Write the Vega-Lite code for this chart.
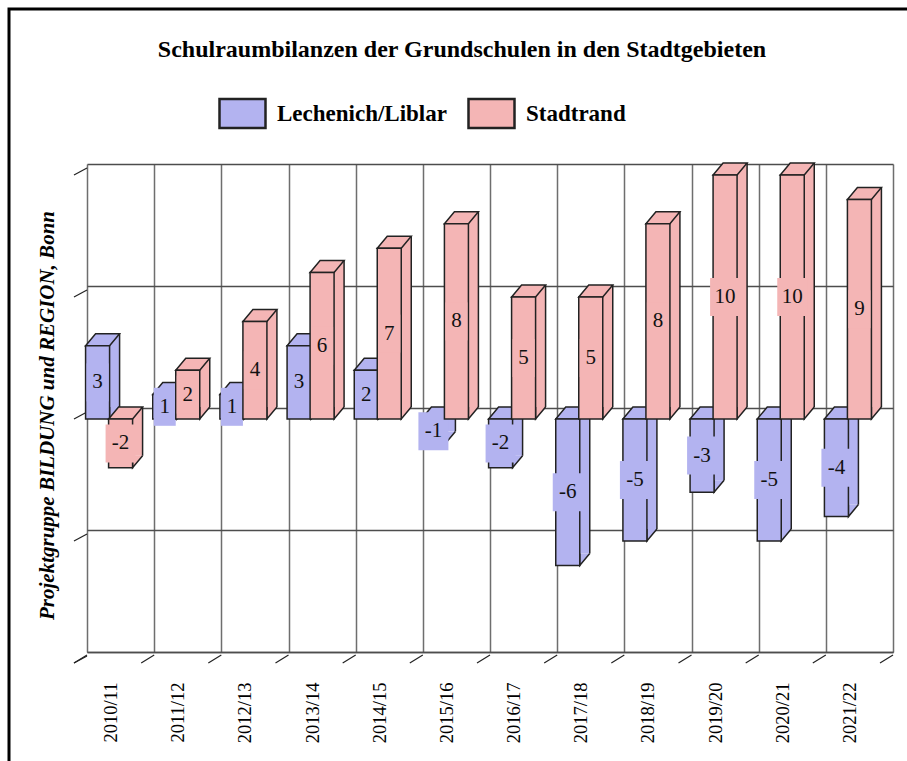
{
  "$schema": "https://vega.github.io/schema/vega-lite/v6.json",
  "width": 900,
  "height": 798,
  "autosize": {"type": "none"},
  "padding": {"left": 9, "top": 9, "right": -2, "bottom": -46},
  "background": "white",
  "config": {"view": {"stroke": "#000", "strokeWidth": 3, "fill": "white"}, "font": "Liberation Serif"},
  "title": {"text": "Schulraumbilanzen der Grundschulen in den Stadtgebieten", "font": "Liberation Serif", "fontSize": 24, "fontWeight": "bold", "color": "#000", "anchor": "middle", "frame": "group", "baseline": "alphabetic", "offset": -72, "dx": 3},
  "datasets": {
    "bars": [
      {"year": "2010/11", "s": "Lechenich/Liblar", "v": 3},
      {"year": "2011/12", "s": "Lechenich/Liblar", "v": 1},
      {"year": "2012/13", "s": "Lechenich/Liblar", "v": 1},
      {"year": "2013/14", "s": "Lechenich/Liblar", "v": 3},
      {"year": "2014/15", "s": "Lechenich/Liblar", "v": 2},
      {"year": "2015/16", "s": "Lechenich/Liblar", "v": -1},
      {"year": "2016/17", "s": "Lechenich/Liblar", "v": -2},
      {"year": "2017/18", "s": "Lechenich/Liblar", "v": -6},
      {"year": "2018/19", "s": "Lechenich/Liblar", "v": -5},
      {"year": "2019/20", "s": "Lechenich/Liblar", "v": -3},
      {"year": "2020/21", "s": "Lechenich/Liblar", "v": -5},
      {"year": "2021/22", "s": "Lechenich/Liblar", "v": -4},
      {"year": "2010/11", "s": "Stadtrand", "v": -2},
      {"year": "2011/12", "s": "Stadtrand", "v": 2},
      {"year": "2012/13", "s": "Stadtrand", "v": 4},
      {"year": "2013/14", "s": "Stadtrand", "v": 6},
      {"year": "2014/15", "s": "Stadtrand", "v": 7},
      {"year": "2015/16", "s": "Stadtrand", "v": 8},
      {"year": "2016/17", "s": "Stadtrand", "v": 5},
      {"year": "2017/18", "s": "Stadtrand", "v": 5},
      {"year": "2018/19", "s": "Stadtrand", "v": 8},
      {"year": "2019/20", "s": "Stadtrand", "v": 10},
      {"year": "2020/21", "s": "Stadtrand", "v": 10},
      {"year": "2021/22", "s": "Stadtrand", "v": 9}
    ],
    "yticks": [{"t": -10}, {"t": -5}, {"t": 0}, {"t": 5}, {"t": 10}]
  },
  "resolve": {"scale": {"y": "independent"}},
  "layer": [
    {
      "layer": [
        {
          "data": {"name": "yticks"},
          "mark": {"type": "point", "shape": "M0,4L-13,11", "size": 4, "filled": false, "stroke": "#222", "strokeWidth": 1.2, "opacity": 1},
          "encoding": {
            "x": {"datum": "2010/11", "type": "nominal", "bandPosition": 0},
            "y": {"field": "t", "type": "quantitative",
              "scale": {"domain": [-10, 10], "range": [643, 155], "nice": false, "zero": false},
              "axis": {"orient": "left", "offset": -78, "values": [-10, -5, 0, 5, 10], "labels": false, "ticks": false, "domain": false, "grid": true, "gridColor": "#4d4d4d", "gridWidth": 1.5,
                "title": "Projektgruppe BILDUNG und REGION, Bonn", "titleFont": "Liberation Serif", "titleFontSize": 21, "titleFontWeight": "bold", "titleFontStyle": "italic", "titleColor": "#000", "titleX": -40, "titleY": 406, "titleAngle": -90, "titleAlign": "center", "titleBaseline": "middle"}}
          }
        },
        {
          "data": {"name": "bars"},
          "transform": [{"filter": "datum.s == 'Stadtrand'"}],
          "mark": {"type": "point", "shape": "M0,3L-13,11", "size": 4, "filled": false, "stroke": "#222", "strokeWidth": 1.2, "opacity": 1},
          "encoding": {
            "x": {"field": "year", "type": "nominal", "bandPosition": 0,
              "scale": {"type": "band", "domain": ["2010/11","2011/12","2012/13","2013/14","2014/15","2015/16","2016/17","2017/18","2018/19","2019/20","2020/21","2021/22"], "range": [78, 884], "paddingInner": 0, "paddingOuter": 0},
              "axis": {"orient": "bottom", "offset": -155, "title": null, "ticks": false, "domain": true, "domainColor": "#4d4d4d", "domainWidth": 1.5, "grid": true, "gridColor": "#6e6e6e", "gridWidth": 1.5, "tickBand": "extent", "labelAngle": -90, "labelPadding": 30, "labelOffset": -10, "labelFont": "Liberation Serif", "labelFontSize": 18.5, "labelColor": "#000", "labelAlign": "right", "labelBaseline": "middle"}},
            "y": {"datum": -10}
          }
        },
        {
          "data": {"name": "bars"},
          "transform": [{"filter": "datum.s == 'Stadtrand' && datum.year == '2021/22'"}],
          "mark": {"type": "point", "shape": "M0,3L-13,11", "size": 4, "filled": false, "stroke": "#222", "strokeWidth": 1.2, "opacity": 1},
          "encoding": {
            "x": {"field": "year", "type": "nominal", "bandPosition": 1},
            "y": {"datum": -10}
          }
        },
        {
          "data": {"name": "bars"},
          "transform": [{"filter": "datum.s == 'Lechenich/Liblar'"}],
          "mark": {"type": "bar", "width": 10, "xOffset": -6, "yOffset": -1, "y2Offset": -1, "fill": "#b3b3f0", "strokeWidth": 0, "opacity": 1},
          "encoding": {"x": {"field": "year", "type": "nominal"}, "y": {"field": "v", "type": "quantitative"}, "y2": {"datum": 0}}
        },
        {
          "data": {"name": "bars"},
          "transform": [{"filter": "datum.s == 'Lechenich/Liblar'"}],
          "mark": {"type": "rule", "xOffset": -1, "yOffset": -1, "y2Offset": -1, "stroke": "#222", "strokeWidth": 1.5},
          "encoding": {"x": {"field": "year", "type": "nominal"}, "y": {"field": "v", "type": "quantitative"}, "y2": {"datum": 0}}
        },
        {
          "data": {"name": "bars"},
          "transform": [{"filter": "datum.s == 'Lechenich/Liblar' && datum.v >= 0"}],
          "mark": {"type": "point", "shape": "M10,-12L0,0L0,-12", "size": 4, "filled": true, "fill": "#b3b3f0", "stroke": "#222", "strokeWidth": 1.5, "opacity": 1, "xOffset": -11, "yOffset": 11},
          "encoding": {"x": {"field": "year", "type": "nominal"}, "y": {"datum": 0}}
        },
        {
          "data": {"name": "bars"},
          "transform": [{"filter": "datum.s == 'Lechenich/Liblar' && datum.v < 0"}],
          "mark": {"type": "point", "shape": "M10,-12L0,0L0,-12", "size": 4, "filled": true, "fill": "#b3b3f0", "stroke": "#222", "strokeWidth": 1.5, "opacity": 1, "xOffset": -11, "yOffset": 11},
          "encoding": {"x": {"field": "year", "type": "nominal"}, "y": {"field": "v", "type": "quantitative"}}
        },
        {
          "data": {"name": "bars"},
          "transform": [{"filter": "datum.s == 'Lechenich/Liblar' && datum.v >= 0"}],
          "mark": {"type": "point", "shape": "M-12,0L12,0L22,-12L-2,-12Z", "size": 4, "filled": true, "fill": "#b3b3f0", "stroke": "#222", "strokeWidth": 1.5, "opacity": 1, "xOffset": -23, "yOffset": 11},
          "encoding": {"x": {"field": "year", "type": "nominal"}, "y": {"field": "v", "type": "quantitative"}}
        },
        {
          "data": {"name": "bars"},
          "transform": [{"filter": "datum.s == 'Lechenich/Liblar' && datum.v < 0"}],
          "mark": {"type": "point", "shape": "M-12,0L12,0L22,-12L-2,-12Z", "size": 4, "filled": true, "fill": "#b3b3f0", "stroke": "#222", "strokeWidth": 1.5, "opacity": 1, "xOffset": -23, "yOffset": 11},
          "encoding": {"x": {"field": "year", "type": "nominal"}, "y": {"datum": 0}}
        },
        {
          "data": {"name": "bars"},
          "transform": [{"filter": "datum.s == 'Lechenich/Liblar'"}],
          "mark": {"type": "bar", "width": 24, "xOffset": -23, "yOffset": 11, "y2Offset": 11, "stroke": "#222", "strokeWidth": 1.5, "opacity": 1},
          "encoding": {
            "x": {"field": "year", "type": "nominal"},
            "y": {"field": "v", "type": "quantitative"},
            "y2": {"datum": 0},
            "color": {"field": "s", "type": "nominal",
              "scale": {"domain": ["Lechenich/Liblar", "Stadtrand"], "range": ["#b3b3f0", "#f4b5b5"]},
              "legend": {"orient": "none", "legendX": 209, "legendY": 80, "direction": "horizontal", "title": null, "symbolType": "M-1,-0.63H1V0.63H-1Z", "symbolSize": 2116, "symbolStrokeColor": "#111", "symbolStrokeWidth": 2.5, "symbolOpacity": 1, "labelFont": "Liberation Serif", "labelFontSize": 23, "labelFontWeight": "bold", "labelColor": "#000", "labelOffset": 10, "labelLimit": 400, "columnPadding": 16, "padding": 0}}
          }
        }
      ]
    },
    {
      "data": {"name": "bars"},
      "transform": [{"filter": "datum.s == 'Lechenich/Liblar'"}],
      "layer": [
        {
          "transform": [{"filter": "datum.v >= 0 && datum.v < 10"}],
          "mark": {"type": "point", "shape": "M-11,-19H11V19H-11Z", "size": 4, "filled": true, "fill": "#b3b3f0", "strokeWidth": 0, "opacity": 1, "xOffset": -23, "yOffset": 11},
          "encoding": {"x": {"field": "year", "type": "nominal"}, "y": {"field": "v", "type": "quantitative", "scale": {"domain": [-20, 20], "range": [643, 155], "nice": false, "zero": false}, "axis": null}}
        },
        {
          "transform": [{"filter": "datum.v < 0 || datum.v >= 10"}],
          "mark": {"type": "point", "shape": "M-15,-19H15V19H-15Z", "size": 4, "filled": true, "fill": "#b3b3f0", "strokeWidth": 0, "opacity": 1, "xOffset": -23, "yOffset": 11},
          "encoding": {"x": {"field": "year", "type": "nominal"}, "y": {"field": "v", "type": "quantitative", "axis": null}}
        },
        {
          "mark": {"type": "text", "font": "Liberation Serif", "fontSize": 21, "color": "#111", "align": "center", "baseline": "middle", "xOffset": -23, "yOffset": 11},
          "encoding": {"x": {"field": "year", "type": "nominal"}, "y": {"field": "v", "type": "quantitative", "axis": null}, "text": {"field": "v", "type": "nominal"}}
        }
      ]
    },
    {
      "data": {"name": "bars"},
      "transform": [{"filter": "datum.s == 'Stadtrand'"}],
      "layer": [
        {
          "mark": {"type": "bar", "width": 10, "xOffset": 17, "yOffset": -1, "y2Offset": -1, "fill": "#f4b5b5", "strokeWidth": 0, "opacity": 1},
          "encoding": {"x": {"field": "year", "type": "nominal"}, "y": {"field": "v", "type": "quantitative", "scale": {"domain": [-10, 10], "range": [643, 155], "nice": false, "zero": false}, "axis": null}, "y2": {"datum": 0}}
        },
        {
          "mark": {"type": "rule", "xOffset": 22, "yOffset": -1, "y2Offset": -1, "stroke": "#222", "strokeWidth": 1.5},
          "encoding": {"x": {"field": "year", "type": "nominal"}, "y": {"field": "v", "type": "quantitative", "axis": null}, "y2": {"datum": 0}}
        },
        {
          "transform": [{"filter": "datum.v >= 0"}],
          "mark": {"type": "point", "shape": "M10,-12L0,0L0,-12", "size": 4, "filled": true, "fill": "#f4b5b5", "stroke": "#222", "strokeWidth": 1.5, "opacity": 1, "xOffset": 12, "yOffset": 11},
          "encoding": {"x": {"field": "year", "type": "nominal"}, "y": {"datum": 0, "axis": null}}
        },
        {
          "transform": [{"filter": "datum.v < 0"}],
          "mark": {"type": "point", "shape": "M10,-12L0,0L0,-12", "size": 4, "filled": true, "fill": "#f4b5b5", "stroke": "#222", "strokeWidth": 1.5, "opacity": 1, "xOffset": 12, "yOffset": 11},
          "encoding": {"x": {"field": "year", "type": "nominal"}, "y": {"field": "v", "type": "quantitative", "axis": null}}
        },
        {
          "transform": [{"filter": "datum.v >= 0"}],
          "mark": {"type": "point", "shape": "M-12,0L12,0L22,-12L-2,-12Z", "size": 4, "filled": true, "fill": "#f4b5b5", "stroke": "#222", "strokeWidth": 1.5, "opacity": 1, "xOffset": 0, "yOffset": 11},
          "encoding": {"x": {"field": "year", "type": "nominal"}, "y": {"field": "v", "type": "quantitative", "axis": null}}
        },
        {
          "transform": [{"filter": "datum.v < 0"}],
          "mark": {"type": "point", "shape": "M-12,0L12,0L22,-12L-2,-12Z", "size": 4, "filled": true, "fill": "#f4b5b5", "stroke": "#222", "strokeWidth": 1.5, "opacity": 1, "xOffset": 0, "yOffset": 11},
          "encoding": {"x": {"field": "year", "type": "nominal"}, "y": {"datum": 0, "axis": null}}
        },
        {
          "mark": {"type": "bar", "width": 24, "xOffset": 0, "yOffset": 11, "y2Offset": 11, "stroke": "#222", "strokeWidth": 1.5, "opacity": 1},
          "encoding": {
            "x": {"field": "year", "type": "nominal"},
            "y": {"field": "v", "type": "quantitative", "axis": null},
            "y2": {"datum": 0},
            "color": {"field": "s", "type": "nominal"}
          }
        }
      ]
    },
    {
      "data": {"name": "bars"},
      "transform": [{"filter": "datum.s == 'Stadtrand'"}],
      "layer": [
        {
          "transform": [{"filter": "datum.v >= 0 && datum.v < 10"}],
          "mark": {"type": "point", "shape": "M-11,-19H11V19H-11Z", "size": 4, "filled": true, "fill": "#f4b5b5", "strokeWidth": 0, "opacity": 1, "xOffset": 0, "yOffset": 11},
          "encoding": {"x": {"field": "year", "type": "nominal"}, "y": {"field": "v", "type": "quantitative", "scale": {"domain": [-20, 20], "range": [643, 155], "nice": false, "zero": false}, "axis": null}}
        },
        {
          "transform": [{"filter": "datum.v < 0 || datum.v >= 10"}],
          "mark": {"type": "point", "shape": "M-15,-19H15V19H-15Z", "size": 4, "filled": true, "fill": "#f4b5b5", "strokeWidth": 0, "opacity": 1, "xOffset": 0, "yOffset": 11},
          "encoding": {"x": {"field": "year", "type": "nominal"}, "y": {"field": "v", "type": "quantitative", "axis": null}}
        },
        {
          "mark": {"type": "text", "font": "Liberation Serif", "fontSize": 21, "color": "#111", "align": "center", "baseline": "middle", "xOffset": 0, "yOffset": 11},
          "encoding": {"x": {"field": "year", "type": "nominal"}, "y": {"field": "v", "type": "quantitative", "axis": null}, "text": {"field": "v", "type": "nominal"}}
        }
      ]
    }
  ]
}
